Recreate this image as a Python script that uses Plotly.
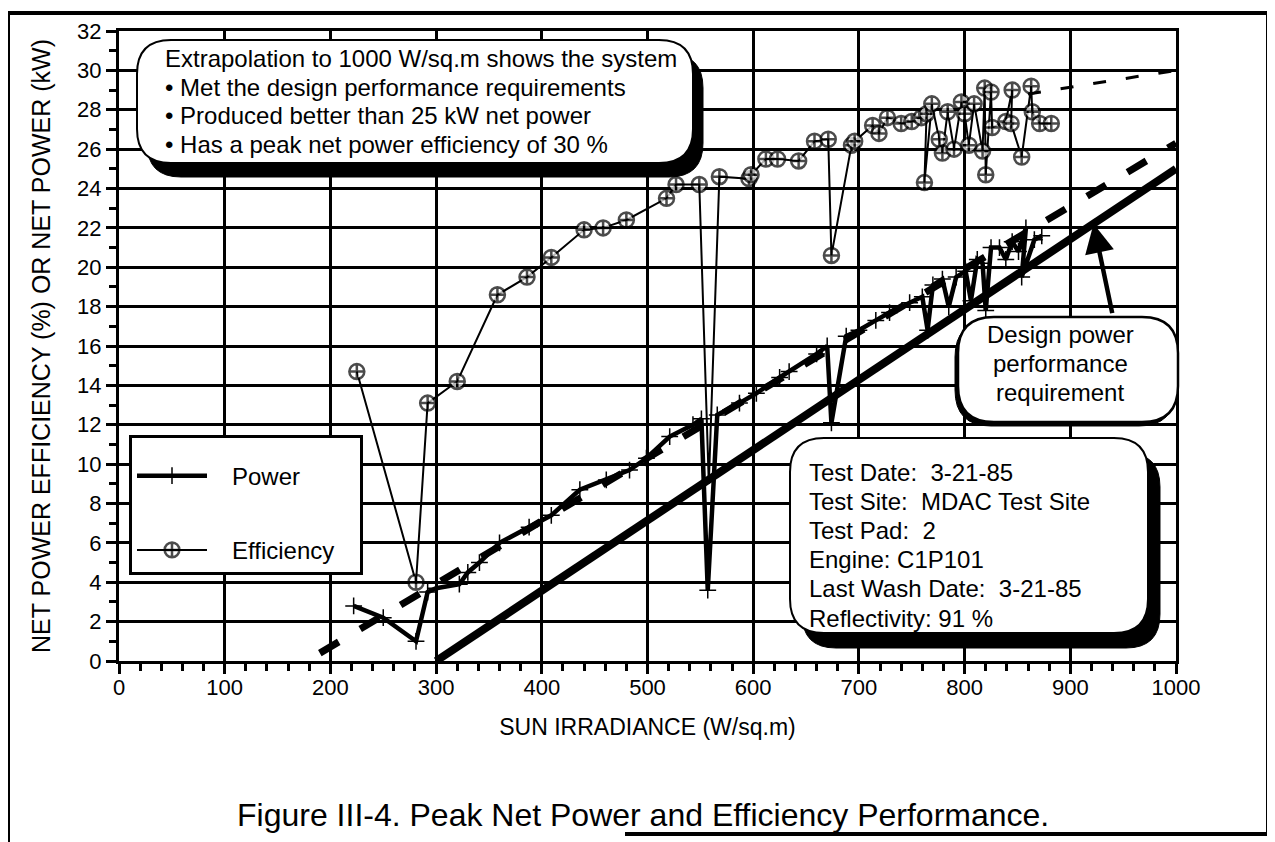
"""Peak net power and efficiency vs sun irradiance (Figure III-4)."""

import plotly.graph_objects as go

# ---- data ----
irr_power = [222, 250, 281, 292, 300, 322, 330, 341, 360, 388,
             409, 436, 461, 483, 499, 521, 543, 551, 557, 566,
             587, 603, 625, 634, 660, 670, 674, 688, 700, 716,
             729, 748, 760, 765, 770, 779, 785, 792, 801, 806,
             812, 817, 820, 825, 833, 839, 845, 851, 858, 854,
             866, 873]
net_power = [2.8, 2.2, 1.0, 3.5, 3.7, 3.9, 4.5, 5.0, 6.0, 6.8,
             7.4, 8.7, 9.2, 9.7, 10.3, 11.4, 12.0, 12.3, 3.6, 12.5,
             13.1, 13.6, 14.4, 14.7, 15.6, 16.0, 12.1, 16.5, 16.8, 17.3,
             17.7, 18.2, 18.5, 16.8, 19.1, 19.4, 18.0, 19.5, 19.8, 18.3,
             20.4, 20.2, 17.8, 21.0, 21.0, 20.4, 21.3, 20.8, 22.0, 19.5,
             21.4, 21.6]

irr_eff = [225, 281, 292, 320, 358, 386, 409, 440, 458, 480,
           518, 527, 549, 558, 568, 596, 598, 612, 623, 643,
           658, 671, 674, 693, 696, 713, 719, 727, 740, 750,
           759, 764, 762, 769, 776, 779, 784, 790, 797, 800,
           804, 809, 817, 819, 820, 825, 826, 839, 845, 844,
           854, 863, 864, 871, 882]
efficiency = [14.7, 4.0, 13.1, 14.2, 18.6, 19.5, 20.5, 21.9, 22.0, 22.4,
              23.5, 24.2, 24.2, 9.0, 24.6, 24.5, 24.7, 25.5, 25.5, 25.4,
              26.4, 26.5, 20.6, 26.2, 26.4, 27.2, 26.8, 27.6, 27.3, 27.4,
              27.6, 27.8, 24.3, 28.3, 26.5, 25.8, 27.9, 26.0, 28.4, 27.8,
              26.2, 28.3, 25.9, 29.1, 24.7, 28.9, 27.1, 27.4, 29.0, 27.3,
              25.6, 29.2, 27.9, 27.3, 27.3]
hidden_eff_point = 13  # dip hidden under the power line

design_x = [300, 1000]
design_y = [0, 25]
power_ext_x = [190, 1000]
power_ext_y = [0.4, 26.3]
eff_ext_x = [860, 1000]
eff_ext_y = [28.8, 30.0]

note_lines = [
    "Extrapolation to 1000 W/sq.m shows the system",
    "\u2022 Met the design performance requirements",
    "\u2022 Produced better than 25 kW net power",
    "\u2022 Has a peak net power efficiency of 30 %",
]
test_lines = [
    "Test Date:\u00a0 3-21-85",
    "Test Site:\u00a0 MDAC Test Site",
    "Test Pad:\u00a0 2",
    "Engine: C1P101",
    "Last Wash Date:\u00a0 3-21-85",
    "Reflectivity: 91 %",
]
design_lines = ["Design power", "performance", "requirement"]

FONT = "Liberation Sans, Arial, Helvetica, sans-serif"

# the page has an 8px body margin, so the figure sits 8px right and down
OFF = 8
FIG_W, FIG_H = 1275 - OFF, 842 - OFF
# plot area in screen pixels
X0, X1, Y0, Y1 = 119, 1176, 31, 661
W, H = X1 - X0, Y1 - Y0


def to_paper(xp, yp):
    return (xp - X0) / W, (Y1 - yp) / H


def rounded_path(x0, y0, x1, y1, r):
    pts = [
        ("M", [(x0 + r, y0)]), ("L", [(x1 - r, y0)]), ("Q", [(x1, y0), (x1, y0 + r)]),
        ("L", [(x1, y1 - r)]), ("Q", [(x1, y1), (x1 - r, y1)]),
        ("L", [(x0 + r, y1)]), ("Q", [(x0, y1), (x0, y1 - r)]),
        ("L", [(x0, y0 + r)]), ("Q", [(x0, y0), (x0 + r, y0)]),
    ]
    out = []
    for cmd, coords in pts:
        s = " ".join("%.5f,%.5f" % to_paper(a, b) for a, b in coords)
        out.append(cmd + s)
    return " ".join(out) + " Z"


def boxed(x0, y0, x1, y1, r, dx, dy, lw=2):
    shapes = []
    if dx or dy:
        shapes.append(dict(type="path", xref="paper", yref="paper", layer="above",
                           path=rounded_path(x0 + dx, y0 + dy, x1 + dx, y1 + dy, r),
                           fillcolor="black", line=dict(color="black", width=1)))
    shapes.append(dict(type="path", xref="paper", yref="paper", layer="above",
                       path=rounded_path(x0, y0, x1, y1, r),
                       fillcolor="white", line=dict(color="black", width=lw)))
    return shapes


fig = go.Figure()

fig.add_trace(go.Scatter(x=design_x, y=design_y, mode="lines", showlegend=False,
                         line=dict(color="black", width=8), hoverinfo="skip"))
fig.add_trace(go.Scatter(x=power_ext_x, y=power_ext_y, mode="lines", showlegend=False,
                         line=dict(color="black", width=7, dash="22px,25px"), hoverinfo="skip"))
fig.add_trace(go.Scatter(x=eff_ext_x, y=eff_ext_y, mode="lines", showlegend=False,
                         line=dict(color="black", width=3, dash="13px,20px"), hoverinfo="skip"))

fig.add_trace(go.Scatter(
    x=irr_power, y=net_power, mode="lines+markers", name="\u00a0\u00a0\u00a0Power", legendgroup="p",
    line=dict(color="black", width=4.5),
    marker=dict(symbol="cross-thin-open", size=12, color="black", line=dict(width=1.5, color="black")),
))

eff_sizes = [15] * len(efficiency)
eff_sizes[hidden_eff_point] = 0
fig.add_trace(go.Scatter(
    x=irr_eff, y=efficiency, mode="lines+markers",
    name="\u00a0\u00a0\u00a0Efficiency\u00a0\u00a0\u00a0", legendgroup="e",
    line=dict(color="black", width=2),
    marker=dict(symbol="circle-cross", size=eff_sizes, color="white",
                line=dict(width=2.5, color="black")),
))

shapes = []
shapes += boxed(137, 40, 693, 163, 34, 10, 14)
shapes += boxed(790, 438, 1148, 633, 34, 12, 15)
shapes += boxed(958, 317, 1178, 422, 36, -3, 4, lw=2.5)

# outer frame of the figure
for (xa, ya, xb, yb) in [(8, 13, 1268, 13), (8, 13, 8, 842), (1268, 13, 1268, 834), (625, 834, 1268, 834)]:
    pa, pb = to_paper(xa, ya), to_paper(xb, yb)
    shapes.append(dict(type="line", xref="paper", yref="paper", x0=pa[0], y0=pa[1],
                       x1=pb[0], y1=pb[1], line=dict(color="black", width=4)))

annotations = []


def text_at(txt, xp, yp, anchor="left", size=24):
    px_, py_ = to_paper(xp, yp)
    annotations.append(dict(text=txt, x=px_, y=py_, xref="paper", yref="paper",
                            xanchor=anchor, yanchor="middle", showarrow=False,
                            font=dict(family=FONT, size=size, color="black")))


for i, line in enumerate(note_lines):
    text_at(line, 163, 59 + i * 28.5)
for i, line in enumerate(test_lines):
    text_at(line, 807, 472 + i * 29.2)
for i, line in enumerate(design_lines):
    text_at(line, 1060, 335 + i * 28.5, anchor="center")

text_at("Figure III-4. Peak Net Power and Efficiency Performance.", 643, 815,
        anchor="center", size=32)

# arrow from the design box to the requirement line
tip_x = 922
tip_y = design_y[0] + (tip_x - design_x[0]) * (design_y[1] - design_y[0]) / (design_x[1] - design_x[0])
annotations.append(dict(x=tip_x, y=tip_y, xref="x", yref="y", text="", showarrow=True,
                        ax=19, ay=91, arrowhead=2, arrowsize=1.3, arrowwidth=4.5,
                        arrowcolor="black", standoff=0))

fig.update_layout(
    width=FIG_W, height=FIG_H,
    margin=dict(l=X0 - OFF, r=FIG_W - (X1 - OFF), t=Y0 - OFF, b=FIG_H - (Y1 - OFF)),
    paper_bgcolor="white", plot_bgcolor="white",
    font=dict(family=FONT, size=22, color="black"),
    shapes=shapes, annotations=annotations,
    legend=dict(
        x=to_paper(129, 0)[0], y=to_paper(0, 435)[1], xanchor="left", yanchor="top",
        bgcolor="white", bordercolor="black", borderwidth=3,
        font=dict(family=FONT, size=24, color="black"),
        tracegroupgap=40, traceorder="grouped", itemwidth=70,
        title=dict(text=" ", font=dict(size=12)),
    ),
    showlegend=True,
)

fig.update_xaxes(
    range=[0, 1000], dtick=100, tick0=0,
    showgrid=True, gridcolor="black", gridwidth=3,
    showline=True, linecolor="black", linewidth=3, mirror=True,
    ticks="outside", ticklen=10, tickwidth=2.5, tickcolor="black",
    minor=dict(dtick=20, ticks="outside", ticklen=7, tickwidth=2.5, tickcolor="black"),
    zeroline=False, ticklabelstandoff=-5,
    tickfont=dict(family=FONT, size=22),
    title=dict(text="SUN IRRADIANCE (W/sq.m)", font=dict(family=FONT, size=23), standoff=20),
)
fig.update_yaxes(
    range=[0, 32], dtick=2, tick0=0,
    showgrid=True, gridcolor="black", gridwidth=3,
    showline=True, linecolor="black", linewidth=3, mirror=True,
    ticks="outside", ticklen=10, tickwidth=2.5, tickcolor="black",
    minor=dict(dtick=1, ticks="outside", ticklen=7, tickwidth=2.5, tickcolor="black"),
    zeroline=False,
    tickfont=dict(family=FONT, size=22),
    title=dict(text="NET POWER EFFICIENCY (%) OR NET POWER (kW)", font=dict(family=FONT, size=25), standoff=20),
)

fig.write_html("out.html")
